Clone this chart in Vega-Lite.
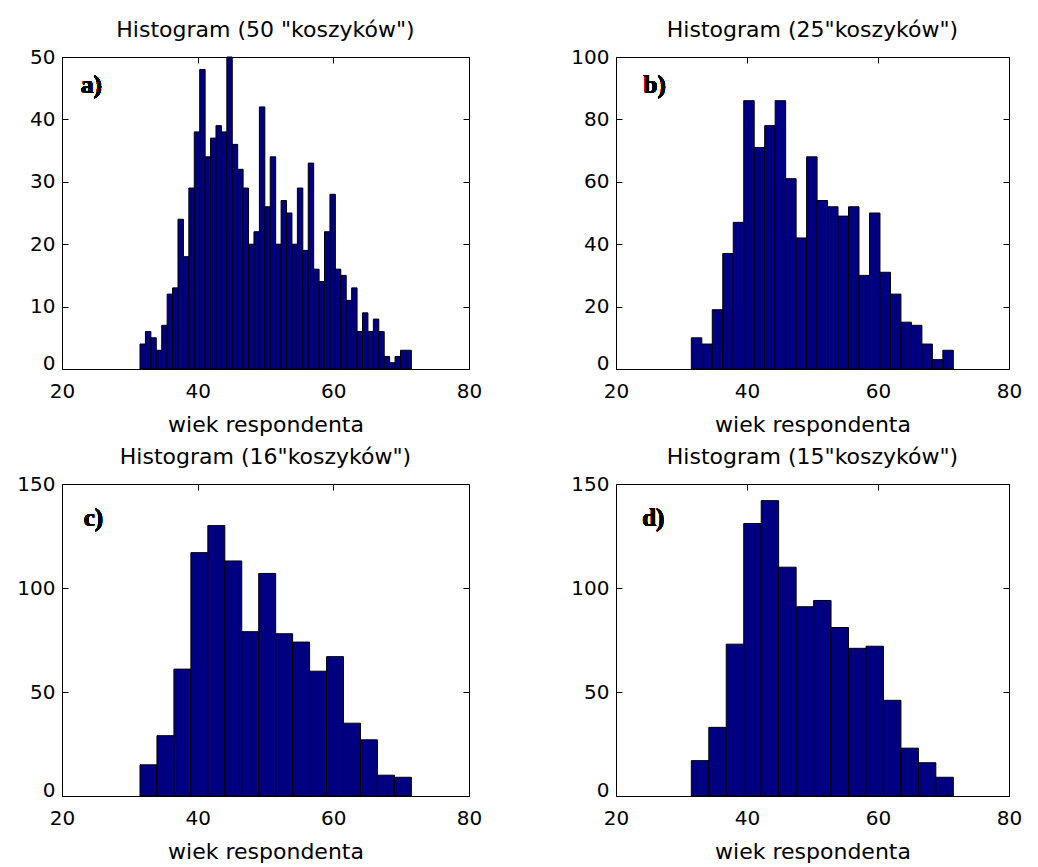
{
  "$schema": "https://vega.github.io/schema/vega-lite/v6.json",
  "background": "#ffffff",
  "padding": {"left": 16, "top": 18, "right": 5, "bottom": 0},
  "datasets": {
    "a": [
      {"start": 31.5, "end": 32.3, "count": 4}, {"start": 32.3, "end": 33.1, "count": 6}, {"start": 33.1, "end": 33.9, "count": 5}, {"start": 33.9, "end": 34.7, "count": 3}, {"start": 34.7, "end": 35.5, "count": 7},
      {"start": 35.5, "end": 36.3, "count": 12}, {"start": 36.3, "end": 37.1, "count": 13}, {"start": 37.1, "end": 37.9, "count": 24}, {"start": 37.9, "end": 38.7, "count": 18}, {"start": 38.7, "end": 39.5, "count": 29},
      {"start": 39.5, "end": 40.3, "count": 38}, {"start": 40.3, "end": 41.1, "count": 48}, {"start": 41.1, "end": 41.9, "count": 34}, {"start": 41.9, "end": 42.7, "count": 37}, {"start": 42.7, "end": 43.5, "count": 39},
      {"start": 43.5, "end": 44.3, "count": 38}, {"start": 44.3, "end": 45.1, "count": 50}, {"start": 45.1, "end": 45.9, "count": 36}, {"start": 45.9, "end": 46.7, "count": 32}, {"start": 46.7, "end": 47.5, "count": 29},
      {"start": 47.5, "end": 48.3, "count": 20}, {"start": 48.3, "end": 49.1, "count": 22}, {"start": 49.1, "end": 49.9, "count": 42}, {"start": 49.9, "end": 50.7, "count": 26}, {"start": 50.7, "end": 51.5, "count": 34},
      {"start": 51.5, "end": 52.3, "count": 20}, {"start": 52.3, "end": 53.1, "count": 27}, {"start": 53.1, "end": 53.9, "count": 25}, {"start": 53.9, "end": 54.7, "count": 20}, {"start": 54.7, "end": 55.5, "count": 29},
      {"start": 55.5, "end": 56.3, "count": 19}, {"start": 56.3, "end": 57.1, "count": 33}, {"start": 57.1, "end": 57.9, "count": 16}, {"start": 57.9, "end": 58.7, "count": 14}, {"start": 58.7, "end": 59.5, "count": 22},
      {"start": 59.5, "end": 60.3, "count": 28}, {"start": 60.3, "end": 61.1, "count": 16}, {"start": 61.1, "end": 61.9, "count": 15}, {"start": 61.9, "end": 62.7, "count": 11}, {"start": 62.7, "end": 63.5, "count": 13},
      {"start": 63.5, "end": 64.3, "count": 6}, {"start": 64.3, "end": 65.1, "count": 9}, {"start": 65.1, "end": 65.9, "count": 6}, {"start": 65.9, "end": 66.7, "count": 8}, {"start": 66.7, "end": 67.5, "count": 6},
      {"start": 67.5, "end": 68.3, "count": 2}, {"start": 68.3, "end": 69.1, "count": 1}, {"start": 69.1, "end": 69.9, "count": 2}, {"start": 69.9, "end": 70.7, "count": 3}, {"start": 70.7, "end": 71.5, "count": 3}
    ],
    "b": [
      {"start": 31.5, "end": 33.1, "count": 10}, {"start": 33.1, "end": 34.7, "count": 8}, {"start": 34.7, "end": 36.3, "count": 19}, {"start": 36.3, "end": 37.9, "count": 37}, {"start": 37.9, "end": 39.5, "count": 47},
      {"start": 39.5, "end": 41.1, "count": 86}, {"start": 41.1, "end": 42.7, "count": 71}, {"start": 42.7, "end": 44.3, "count": 78}, {"start": 44.3, "end": 45.9, "count": 86}, {"start": 45.9, "end": 47.5, "count": 61},
      {"start": 47.5, "end": 49.1, "count": 42}, {"start": 49.1, "end": 50.7, "count": 68}, {"start": 50.7, "end": 52.3, "count": 54}, {"start": 52.3, "end": 53.9, "count": 52}, {"start": 53.9, "end": 55.5, "count": 49},
      {"start": 55.5, "end": 57.1, "count": 52}, {"start": 57.1, "end": 58.7, "count": 30}, {"start": 58.7, "end": 60.3, "count": 50}, {"start": 60.3, "end": 61.9, "count": 31}, {"start": 61.9, "end": 63.5, "count": 24},
      {"start": 63.5, "end": 65.1, "count": 15}, {"start": 65.1, "end": 66.7, "count": 14}, {"start": 66.7, "end": 68.3, "count": 8}, {"start": 68.3, "end": 69.9, "count": 3}, {"start": 69.9, "end": 71.5, "count": 6}
    ],
    "c": [
      {"start": 31.5, "end": 34.0, "count": 15}, {"start": 34.0, "end": 36.5, "count": 29}, {"start": 36.5, "end": 39.0, "count": 61}, {"start": 39.0, "end": 41.5, "count": 117},
      {"start": 41.5, "end": 44.0, "count": 130}, {"start": 44.0, "end": 46.5, "count": 113}, {"start": 46.5, "end": 49.0, "count": 79}, {"start": 49.0, "end": 51.5, "count": 107},
      {"start": 51.5, "end": 54.0, "count": 78}, {"start": 54.0, "end": 56.5, "count": 74}, {"start": 56.5, "end": 59.0, "count": 60}, {"start": 59.0, "end": 61.5, "count": 67},
      {"start": 61.5, "end": 64.0, "count": 35}, {"start": 64.0, "end": 66.5, "count": 27}, {"start": 66.5, "end": 69.0, "count": 10}, {"start": 69.0, "end": 71.5, "count": 9}
    ],
    "d": [
      {"start": 31.5, "end": 34.17, "count": 17}, {"start": 34.17, "end": 36.83, "count": 33}, {"start": 36.83, "end": 39.5, "count": 73}, {"start": 39.5, "end": 42.17, "count": 131},
      {"start": 42.17, "end": 44.83, "count": 142}, {"start": 44.83, "end": 47.5, "count": 110}, {"start": 47.5, "end": 50.17, "count": 91}, {"start": 50.17, "end": 52.83, "count": 94},
      {"start": 52.83, "end": 55.5, "count": 81}, {"start": 55.5, "end": 58.17, "count": 71}, {"start": 58.17, "end": 60.83, "count": 72}, {"start": 60.83, "end": 63.5, "count": 46},
      {"start": 63.5, "end": 66.17, "count": 23}, {"start": 66.17, "end": 68.83, "count": 16}, {"start": 68.83, "end": 71.5, "count": 9}
    ]
  },
  "columns": 2,
  "spacing": {"row": 115, "column": 147},
  "bounds": "flush",
  "concat": [
    {
      "width": 407, "height": 312,
      "title": "Histogram (50 \"koszyków\")",
      "data": {"name": "a"},
      "layer": [
        {
          "mark": {"type": "bar", "fill": "#000080", "stroke": "#000000", "strokeWidth": 1},
          "encoding": {
            "x": {"field": "start", "type": "quantitative", "scale": {"domain": [20, 80], "nice": false}, "axis": {"values": [20, 40, 60, 80], "title": "wiek respondenta"}},
            "x2": {"field": "end"},
            "y": {"field": "count", "type": "quantitative", "scale": {"domain": [0, 50], "nice": false}, "axis": {"values": [0, 10, 20, 30, 40, 50], "title": null}},
            "y2": {"datum": 0}
          }
        },
        {
          "mark": {"type": "text", "text": "a)", "font": "Liberation Serif", "fontWeight": "bold", "fontSize": 25, "align": "left", "baseline": "middle"},
          "encoding": {
            "x": {"datum": 22.8, "type": "quantitative", "axis": {"orient": "top", "values": [20, 40, 60, 80], "labels": false, "domain": false, "title": null}},
            "y": {"datum": 45.5, "type": "quantitative", "axis": {"orient": "right", "values": [0, 10, 20, 30, 40, 50], "labels": false, "domain": false, "title": null}}
          }
        }
      ],
      "resolve": {"axis": {"x": "independent", "y": "independent"}}
    },
    {
      "width": 393, "height": 312,
      "title": "Histogram (25\"koszyków\")",
      "data": {"name": "b"},
      "layer": [
        {
          "mark": {"type": "bar", "fill": "#000080", "stroke": "#000000", "strokeWidth": 1},
          "encoding": {
            "x": {"field": "start", "type": "quantitative", "scale": {"domain": [20, 80], "nice": false}, "axis": {"values": [20, 40, 60, 80], "title": "wiek respondenta"}},
            "x2": {"field": "end"},
            "y": {"field": "count", "type": "quantitative", "scale": {"domain": [0, 100], "nice": false}, "axis": {"values": [0, 20, 40, 60, 80, 100], "title": null}},
            "y2": {"datum": 0}
          }
        },
        {
          "mark": {"type": "text", "text": "b)", "font": "Liberation Serif", "fontWeight": "bold", "fontSize": 25, "align": "left", "baseline": "middle"},
          "encoding": {
            "x": {"datum": 24.2, "type": "quantitative", "axis": {"orient": "top", "values": [20, 40, 60, 80], "labels": false, "domain": false, "title": null}},
            "y": {"datum": 91, "type": "quantitative", "axis": {"orient": "right", "values": [0, 20, 40, 60, 80, 100], "labels": false, "domain": false, "title": null}}
          }
        }
      ],
      "resolve": {"axis": {"x": "independent", "y": "independent"}}
    },
    {
      "width": 407, "height": 312,
      "title": "Histogram (16\"koszyków\")",
      "data": {"name": "c"},
      "layer": [
        {
          "mark": {"type": "bar", "fill": "#000080", "stroke": "#000000", "strokeWidth": 1},
          "encoding": {
            "x": {"field": "start", "type": "quantitative", "scale": {"domain": [20, 80], "nice": false}, "axis": {"values": [20, 40, 60, 80], "title": "wiek respondenta"}},
            "x2": {"field": "end"},
            "y": {"field": "count", "type": "quantitative", "scale": {"domain": [0, 150], "nice": false}, "axis": {"values": [0, 50, 100, 150], "title": null}},
            "y2": {"datum": 0}
          }
        },
        {
          "mark": {"type": "text", "text": "c)", "font": "Liberation Serif", "fontWeight": "bold", "fontSize": 25, "align": "left", "baseline": "middle"},
          "encoding": {
            "x": {"datum": 23.2, "type": "quantitative", "axis": {"orient": "top", "values": [20, 40, 60, 80], "labels": false, "domain": false, "title": null}},
            "y": {"datum": 133.7, "type": "quantitative", "axis": {"orient": "right", "values": [0, 50, 100, 150], "labels": false, "domain": false, "title": null}}
          }
        }
      ],
      "resolve": {"axis": {"x": "independent", "y": "independent"}}
    },
    {
      "width": 393, "height": 312,
      "title": "Histogram (15\"koszyków\")",
      "data": {"name": "d"},
      "layer": [
        {
          "mark": {"type": "bar", "fill": "#000080", "stroke": "#000000", "strokeWidth": 1},
          "encoding": {
            "x": {"field": "start", "type": "quantitative", "scale": {"domain": [20, 80], "nice": false}, "axis": {"values": [20, 40, 60, 80], "title": "wiek respondenta"}},
            "x2": {"field": "end"},
            "y": {"field": "count", "type": "quantitative", "scale": {"domain": [0, 150], "nice": false}, "axis": {"values": [0, 50, 100, 150], "title": null}},
            "y2": {"datum": 0}
          }
        },
        {
          "mark": {"type": "text", "text": "d)", "font": "Liberation Serif", "fontWeight": "bold", "fontSize": 25, "align": "left", "baseline": "middle"},
          "encoding": {
            "x": {"datum": 24.0, "type": "quantitative", "axis": {"orient": "top", "values": [20, 40, 60, 80], "labels": false, "domain": false, "title": null}},
            "y": {"datum": 133.7, "type": "quantitative", "axis": {"orient": "right", "values": [0, 50, 100, 150], "labels": false, "domain": false, "title": null}}
          }
        }
      ],
      "resolve": {"axis": {"x": "independent", "y": "independent"}}
    }
  ],
  "config": {
    "view": {"stroke": "#000000", "strokeWidth": 1},
    "font": "DejaVu Sans",
    "axis": {
      "domainColor": "#000000", "tickColor": "#000000", "labelColor": "#000000", "titleColor": "#000000",
      "labelFont": "DejaVu Sans", "titleFont": "DejaVu Sans", "labelFontSize": 20, "titleFontSize": 22,
      "titleFontWeight": "normal", "grid": false, "tickSize": -6, "labelPadding": 13, "labelFlush": false
    },
    "axisX": {"titlePadding": 13, "labelPadding": 18},
    "axisY": {"labelBaseline": {"condition": {"test": "datum.value == 0", "value": "alphabetic"}, "value": "middle"}},
    "title": {"fontSize": 22, "fontWeight": "normal", "color": "#000000", "font": "DejaVu Sans", "anchor": "middle", "offset": 5}
  }
}
